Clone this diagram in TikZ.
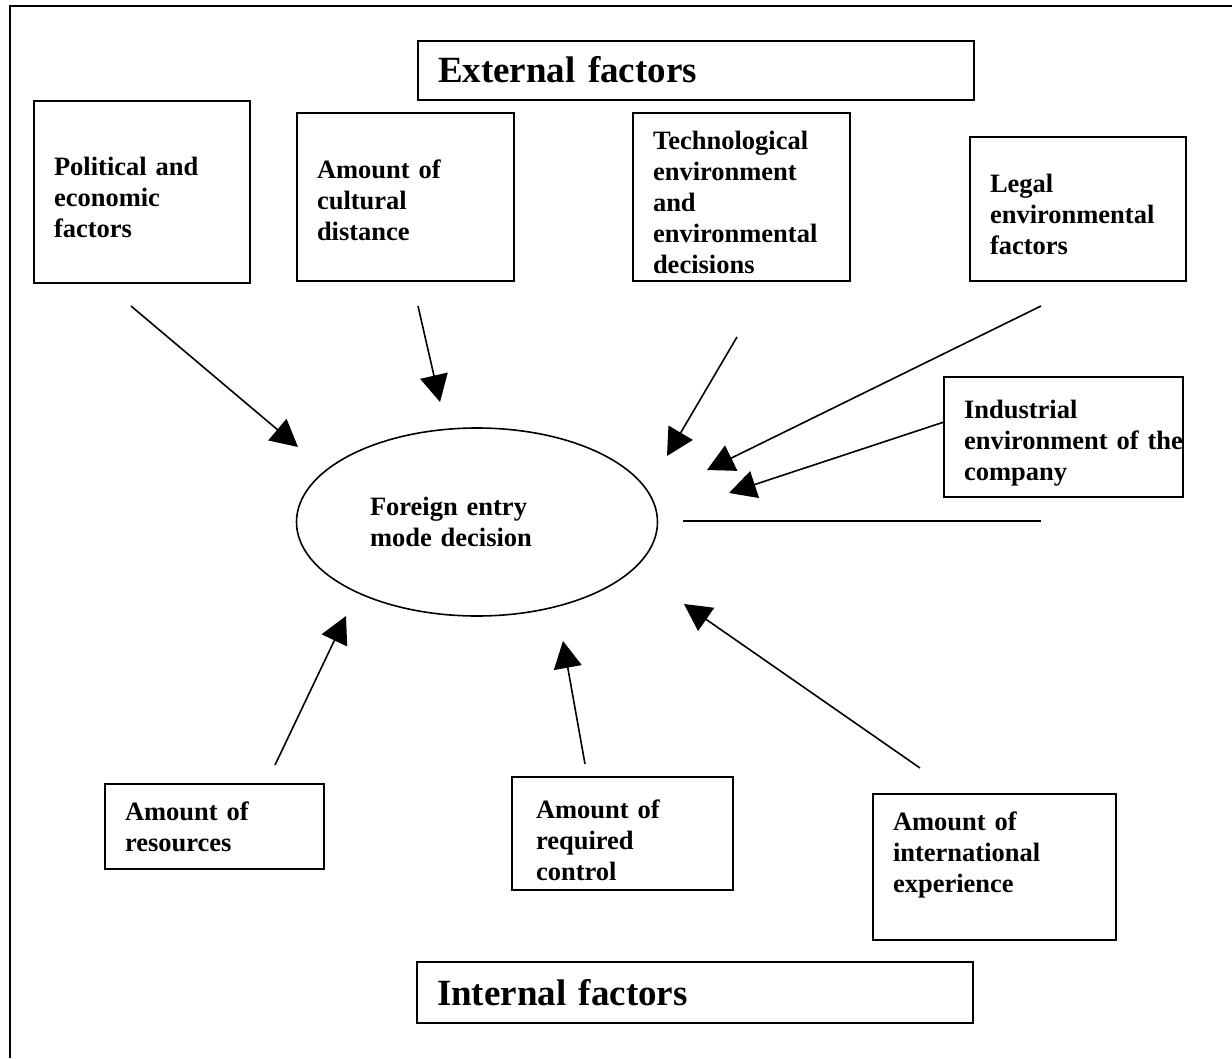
\documentclass[tikz,border=0pt]{standalone}
\usepackage{fontspec}
\setmainfont{Liberation Serif}
\usetikzlibrary{arrows.meta,shapes.geometric}

\begin{document}
\begin{tikzpicture}[x=1pt, y=-1pt,
  factor/.style={draw, line width=2pt, align=left, inner xsep=20pt,
    font=\bfseries\fontsize{26.5}{31}\selectfont},
  heading/.style={draw, line width=2pt, align=left, inner xsep=20pt,
    minimum height=59pt, text width=516pt, font=\bfseries\fontsize{37}{40}\selectfont},
  arr/.style={line width=1.6pt, -{Triangle[length=27pt,width=28pt]}}]
  \useasboundingbox (0,0) rectangle (1232,1058);
  \draw[line width=2pt] (10,1058) -- (10,6) -- (1232,6);

  % headings
  \node[heading] (ext) at (696,70) {External factors};
  \node[heading, minimum height=61pt] (int) at (695,992.5) {Internal factors};

  % external factors
  \node[factor, minimum height=182pt, text width=176pt] (polit) at (142,192)
    {\rule{0pt}{30pt}Political and\\economic\\factors};
  \node[factor, minimum height=168pt, text width=177pt] (cult) at (405.5,197)
    {\rule{0pt}{25pt}Amount of\\cultural\\distance};
  \node[factor, minimum height=168pt, text width=177pt] (tech) at (741.5,197)
    {\rule{0pt}{30pt}Technological\\environment\\and\\environmental\\decisions};
  \node[factor, minimum height=144pt, text width=176pt] (legal) at (1078,209)
    {\rule{0pt}{30pt}Legal\\environmental\\factors};
  \node[factor, minimum height=120pt, text width=199pt] (indus) at (1063.5,437)
    {\rule{0pt}{30pt}Industrial\\environment~of~the\\company};

  % internal factors
  \node[factor, minimum height=85pt, text width=179pt] (res) at (214.5,826.5)
    {Amount of\\resources};
  \node[factor, minimum height=113pt, inner xsep=24pt, text width=173pt] (ctrl) at (622.5,833.5)
    {\rule{0pt}{32pt}Amount of\\required\\control};
  \node[factor, minimum height=146pt, text width=203pt] (intl) at (994.5,867)
    {Amount of\\international\\experience\rule[-29pt]{0pt}{0pt}};

  \node[draw, ellipse, line width=1.6pt, minimum width=361pt, minimum height=188pt,
    align=left, text width=214pt, font=\bfseries\fontsize{26.5}{31}\selectfont]
    (decision) at (477,522) {Foreign entry\\mode decision};

  \foreach \name/\x/\y in {pa/131/306, pb/298/447, ca/418/306, cb/440/402,
    ta/737/337, tb/667/456, la/1041/306, lb/707/470, ia/944/422, ib/729/493,
    ra/275/765, rb/346/616, qa/585/764, qb/563/641, na/920/768, nb/684/604,
    ha/683/521, hb/1041/521}
    \coordinate (\name) at (\x,\y);

  \foreach \a/\b in {pa/pb, ca/cb, ta/tb, la/lb, ia/ib, ra/rb, qa/qb, na/nb}
    \draw[arr] (\a) -- (\b);
  \draw[line width=1.6pt] (ha) -- (hb);
\end{tikzpicture}
\end{document}
